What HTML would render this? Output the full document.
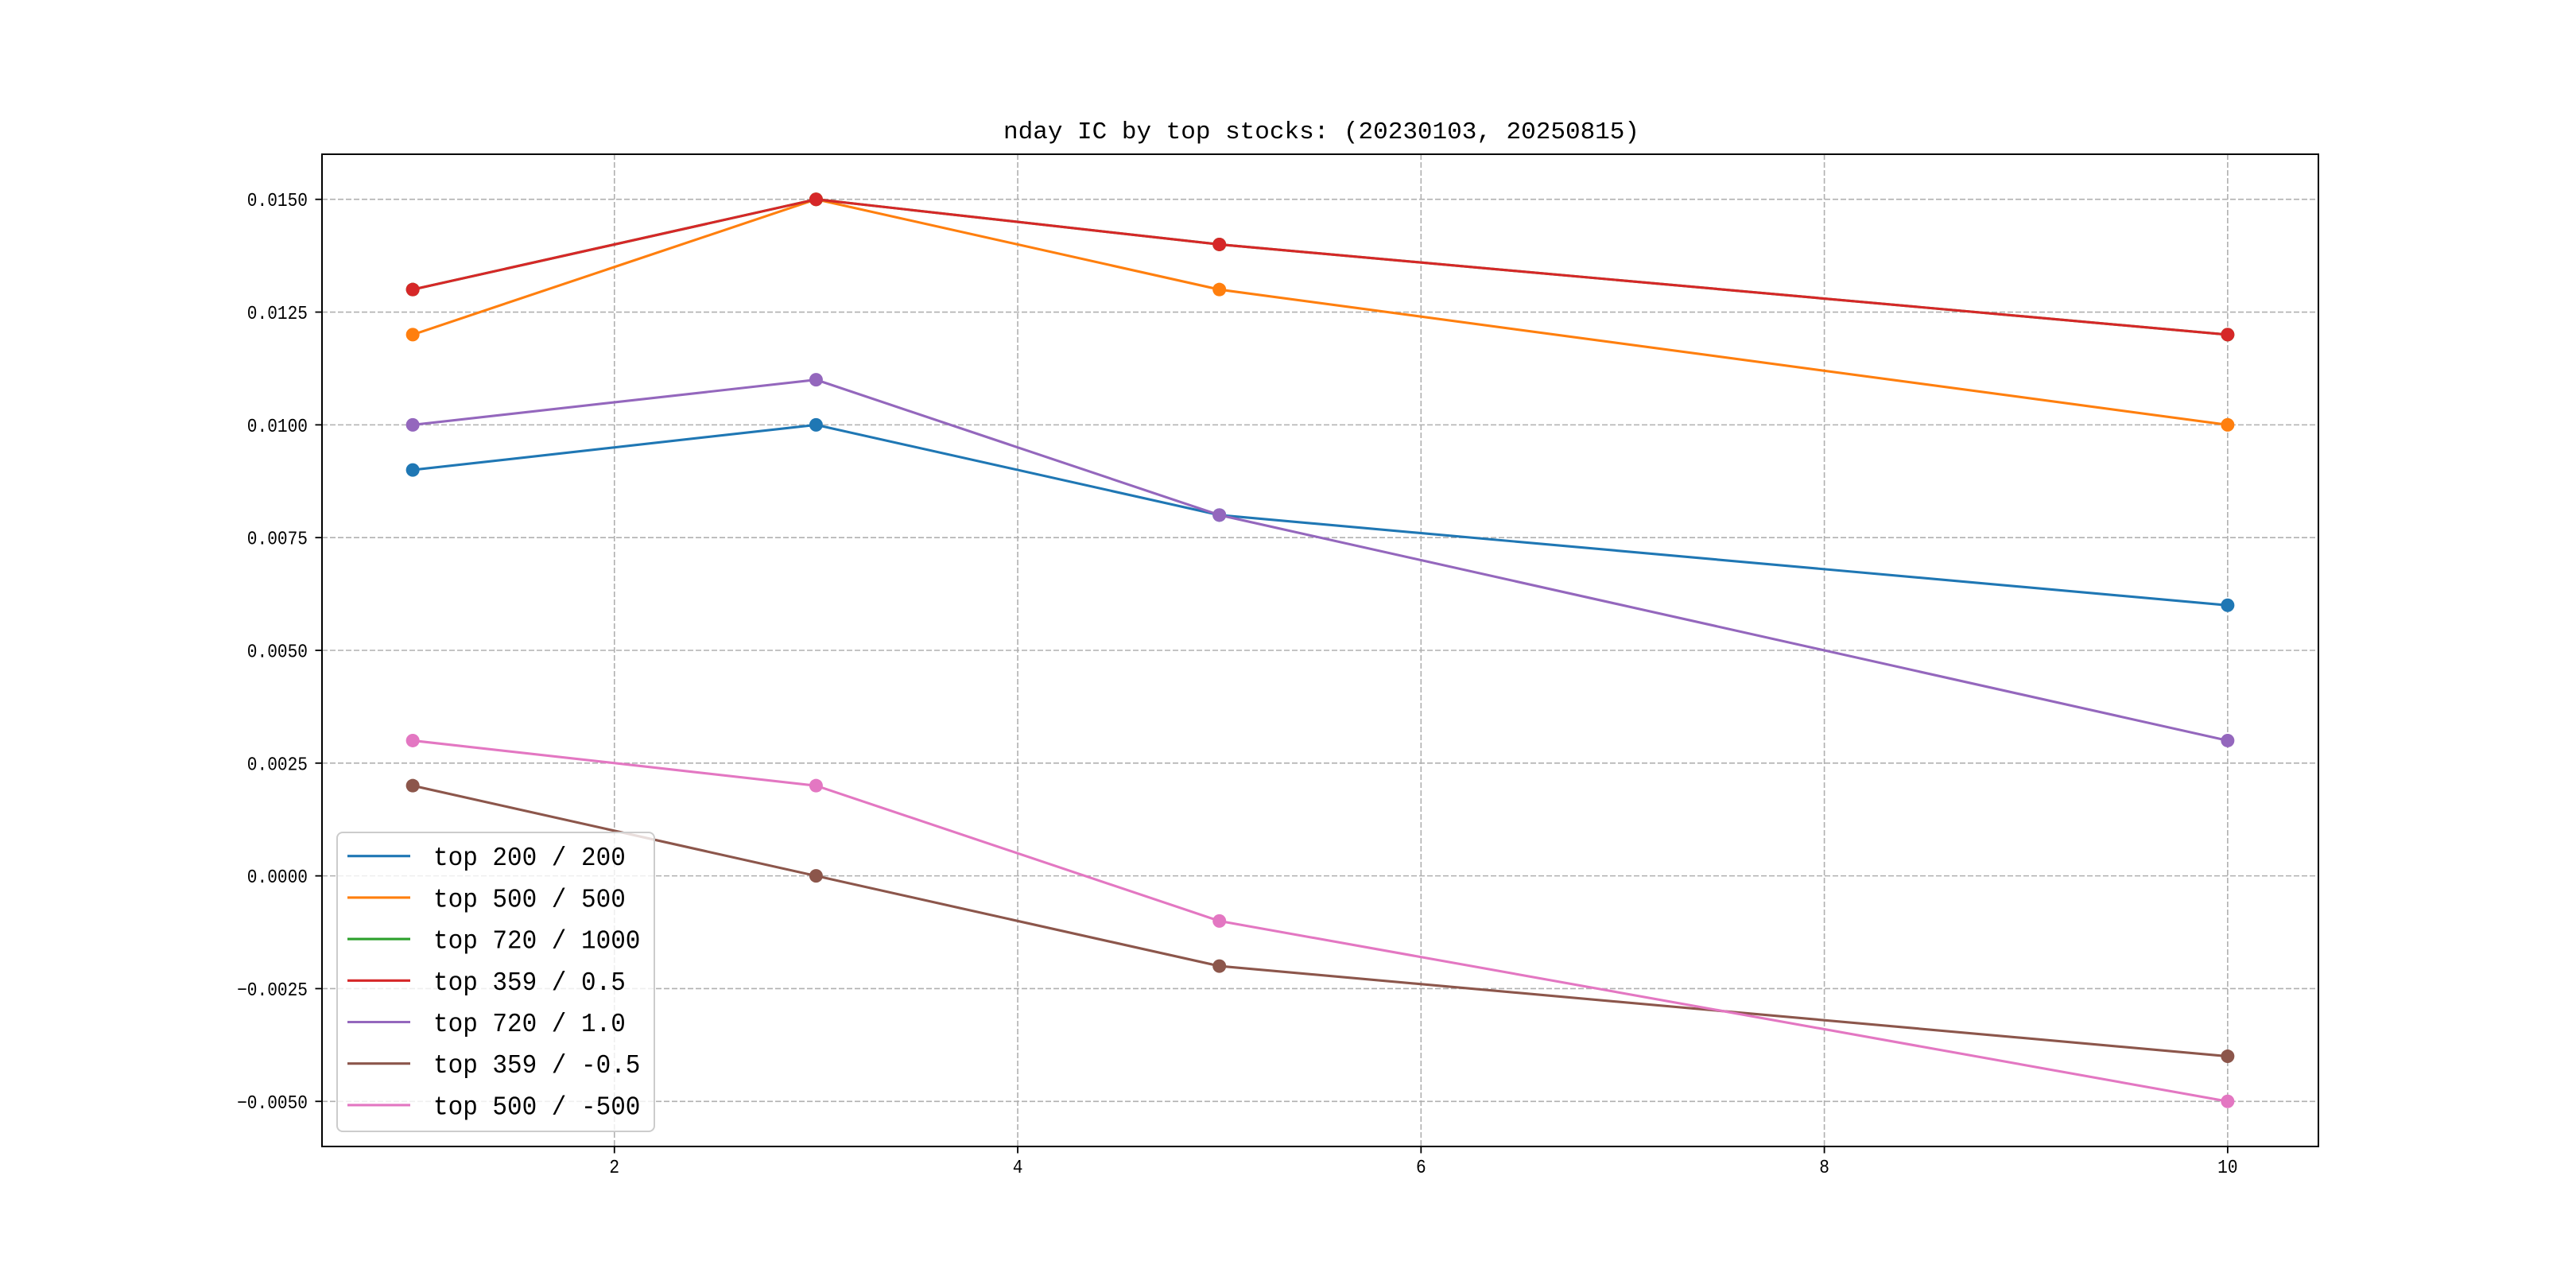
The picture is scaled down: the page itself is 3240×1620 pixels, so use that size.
<!DOCTYPE html>
<html><head><meta charset="utf-8"><style>
html,body{margin:0;padding:0;background:#fff;}
svg{display:block;}
text{font-family:"Liberation Mono","WenQuanYi Zen Hei",monospace;fill:#000;}
</style></head><body>
<svg id="chart" xmlns="http://www.w3.org/2000/svg" width="3240" height="1620" viewBox="0 0 3240 1620"></svg>
<script>
const xValues = [1, 3, 5, 10];
const seriesNames = ["top 200 / 200","top 500 / 500","top 720 / 1000","top 359 / 0.5","top 720 / 1.0","top 359 / -0.5","top 500 / -500"];
const s200 = [0.009, 0.010, 0.008, 0.006];
const s500 = [0.012, 0.015, 0.013, 0.010];
const s720k = [0.013, 0.015, 0.014, 0.012];
const s359p = [0.013, 0.015, 0.014, 0.012];
const s720p = [0.010, 0.011, 0.008, 0.003];
const s359n = [0.002, 0.000, -0.002, -0.004];
const s500n = [0.003, 0.002, -0.001, -0.005];
const yTicks = [-0.005, -0.0025, 0, 0.0025, 0.005, 0.0075, 0.01, 0.0125, 0.015];
const yTickLabels = ["\u22120.0050","\u22120.0025","0.0000","0.0025","0.0050","0.0075","0.0100","0.0125","0.0150"];
const xTicks = [2, 4, 6, 8, 10];
const xTickLabels = ["2","4","6","8","10"];

const allSeries = [s200, s500, s720k, s359p, s720p, s359n, s500n];
const colors = ["#1f77b4","#ff7f0e","#2ca02c","#d62728","#9467bd","#8c564b","#e377c2"];
const L=405, R=2916, T=194, B=1442;
const xMin=0.55, xMax=10.45, yMin=-0.006, yMax=0.016;
const sx = v => L + (v - xMin) / (xMax - xMin) * (R - L);
const sy = v => B - (v - yMin) / (yMax - yMin) * (B - T);
const svg = document.getElementById('chart');
const NS = "http://www.w3.org/2000/svg";
function mk(tag, attrs, parent){ const e=document.createElementNS(NS,tag); for(const k in attrs) e.setAttribute(k, attrs[k]); (parent||svg).appendChild(e); return e; }

yTicks.forEach((v,i)=>{
  const g = mk('line',{x1:L,x2:R,y1:sy(v),y2:sy(v),stroke:'#b0b0b0','stroke-width':1.6,'stroke-dasharray':'7,3'});
  
  
  const t = mk('line',{x1:L-8.5,x2:L,y1:sy(v),y2:sy(v),stroke:'#000','stroke-width':1.8});
  
  
  const lab = mk('text',{x:387,y:sy(v)+8.5,'text-anchor':'end','font-size':24,textLength:(yTickLabels[i].length*12.7),lengthAdjust:'spacingAndGlyphs'});
  lab.textContent = yTickLabels[i];
  
  
});
xTicks.forEach((v,i)=>{
  const g = mk('line',{x1:sx(v),x2:sx(v),y1:T,y2:B,stroke:'#b0b0b0','stroke-width':1.6,'stroke-dasharray':'7,3'});
  
  
  const t = mk('line',{x1:sx(v),x2:sx(v),y1:B,y2:B+8.5,stroke:'#000','stroke-width':1.8});
  
  
  const lab = mk('text',{x:sx(v),y:1475,'text-anchor':'middle','font-size':24,textLength:(xTickLabels[i].length*12.7),lengthAdjust:'spacingAndGlyphs'});
  lab.textContent = xTickLabels[i];
  
  
});

allSeries.forEach((s,si)=>{
  const pts = s.map((v,i)=>sx(xValues[i])+','+sy(v)).join(' ');
  const pl = mk('polyline',{points:pts,fill:'none',stroke:colors[si],'stroke-width':3.1,'stroke-linejoin':'round','stroke-linecap':'square'});
  
  
  s.forEach((v,i)=>{
    const c = mk('circle',{cx:sx(xValues[i]),cy:sy(v),r:8.5,fill:colors[si]});
    
    
  });
});

const fr = mk('rect',{x:L,y:T,width:R-L,height:B-T,fill:'none',stroke:'#000','stroke-width':2});



const title = mk('text',{x:1662,y:174,'text-anchor':'middle','font-size':31,textLength:800,lengthAdjust:'spacingAndGlyphs'});
title.textContent = "nday IC by top stocks: (20230103, 20250815)";



const lg = mk('g',{});


mk('rect',{x:424,y:1047,width:399,height:376,rx:7,fill:'#fff','fill-opacity':0.8,stroke:'#cccccc','stroke-width':2},lg);
seriesNames.forEach((n,i)=>{
  const cy = 1076.7 + i*52.2;
  const h = mk('line',{x1:437,x2:516,y1:cy,y2:cy,stroke:colors[i],'stroke-width':3.1},lg);
  
  
  const t = mk('text',{x:545,y:cy+11.5,'font-size':33,textLength:n.length*18.6,lengthAdjust:'spacingAndGlyphs'},lg);
  t.textContent = n;
  
  
});
</script>
</body></html>
